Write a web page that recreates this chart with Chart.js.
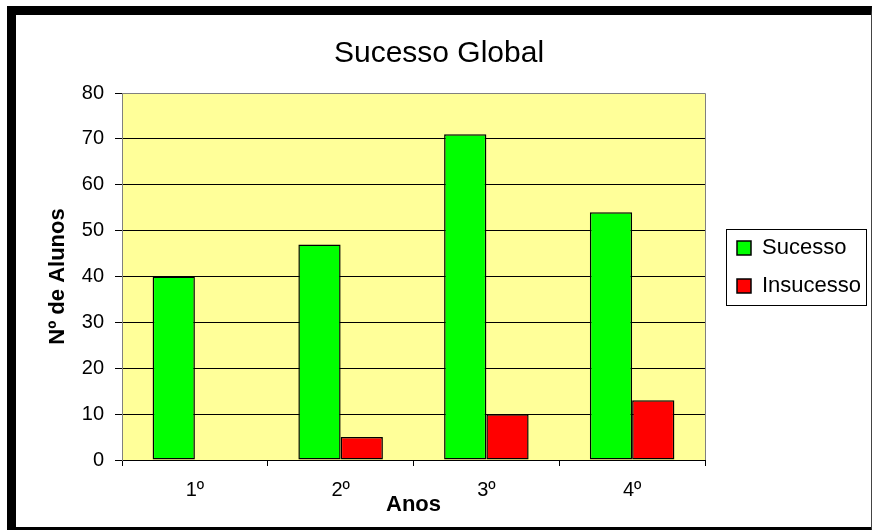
<!DOCTYPE html>
<html lang="pt">
<head>
    <meta charset="UTF-8">
    <title>Sucesso Global</title>
    <script src="https://cdn.jsdelivr.net/npm/chart.js"></script>
    <style>
        html, body { margin: 0; padding: 0; background: #fff; }
        #wrap { position: relative; width: 872px; height: 530px; overflow: hidden; }
        #frame {
            position: absolute; left: 7px; top: 6px; width: 865px; height: 530px;
            box-sizing: border-box;
            border-left: 9px solid #000; border-top: 9px solid #000;
            border-bottom: 9px solid #000; border-right: 1px solid #444;
            pointer-events: none;
        }
        canvas { position: absolute; left: 0; top: 0; }
    </style>
</head>
<body>
    <div id="wrap">
        <canvas id="chart" width="872" height="530"></canvas>
        <div id="frame"></div>
    </div>

    <script>
        const anos = ['1º', '2º', '3º', '4º'];
        const sucesso = [40, 47, 71, 54];
        const insucesso = [0, 5, 10, 13];
        const yMin = 0, yMax = 80, yStep = 10;

        const FONT = '"Liberation Sans", Arial, sans-serif';

        // yellow plot area + grey frame on top/right
        const plotArea = {
            id: 'plotArea',
            afterLayout(chart) {
                // legend sits a bit above the plot's middle
                chart.legend.top -= 3;
                chart.legend.bottom -= 3;
            },
            beforeDraw(chart) {
                const a = chart.chartArea, c = chart.ctx;
                c.save();
                c.fillStyle = '#FFFF99';
                c.fillRect(a.left, a.top, a.right - a.left, a.bottom - a.top);
                c.restore();
            },
            afterDatasetsDraw(chart) {
                const a = chart.chartArea, c = chart.ctx;
                c.save();
                c.strokeStyle = '#808080';
                c.lineWidth = 1;
                c.beginPath();
                c.moveTo(a.left, a.top + 0.5);
                c.lineTo(a.right + 0.5, a.top + 0.5);
                c.lineTo(a.right + 0.5, a.bottom);
                c.stroke();
                c.restore();
            }
        };

        // box around the legend
        const legendBox = {
            id: 'legendBox',
            afterDraw(chart) {
                const hb = chart.legend.legendHitBoxes;
                if (!hb || !hb.length) return;
                const l = Math.min(...hb.map(h => h.left)) - 11;
                const r = Math.max(...hb.map(h => h.left + h.width)) + 5;
                const t = Math.min(...hb.map(h => h.top)) - 8;
                const b = Math.max(...hb.map(h => h.top + h.height)) + 8;
                const c = chart.ctx;
                c.save();
                c.strokeStyle = '#000';
                c.lineWidth = 1;
                c.strokeRect(Math.round(l) + 0.5, Math.round(t) + 0.5, Math.round(r - l), Math.round(b - t));
                c.restore();
            }
        };

        new Chart(document.getElementById('chart'), {
            type: 'bar',
            data: {
                labels: anos,
                datasets: [
                    {
                        label: 'Sucesso',
                        data: sucesso,
                        backgroundColor: '#00FF00',
                        borderColor: '#000',
                        borderWidth: 1.5,
                        borderSkipped: false
                    },
                    {
                        label: 'Insucesso',
                        data: insucesso,
                        backgroundColor: '#FF0000',
                        borderColor: '#000',
                        borderWidth: 1.5,
                        borderSkipped: false
                    }
                ]
            },
            options: {
                responsive: false,
                animation: false,
                devicePixelRatio: 1,
                categoryPercentage: 0.58,
                barPercentage: 1.0,
                layout: { padding: { left: 16, top: 20, right: 10, bottom: 10 } },
                plugins: {
                    title: {
                        display: true,
                        text: 'Sucesso Global',
                        color: '#000',
                        font: { family: FONT, size: 30, weight: 'normal' },
                        padding: { top: 16, bottom: 21 }
                    },
                    legend: {
                        position: 'right',
                        labels: {
                            color: '#000',
                            font: { family: FONT, size: 22 },
                            boxWidth: 14,
                            boxHeight: 14,
                            padding: 16
                        }
                    },
                    tooltip: { enabled: false }
                },
                scales: {
                    x: {
                        grid: {
                            offset: true,
                            drawOnChartArea: false,
                            drawTicks: true,
                            tickLength: 6,
                            color: '#000'
                        },
                        border: { color: '#000', width: 1 },
                        ticks: { color: '#000', font: { family: FONT, size: 20 }, padding: 12 },
                        title: {
                            display: true,
                            text: 'Anos',
                            color: '#000',
                            font: { family: FONT, size: 22, weight: 'bold' },
                            padding: { top: 0, bottom: 2 }
                        },
                        afterFit(scale) { scale.height = 60; }
                    },
                    y: {
                        min: yMin,
                        max: yMax,
                        ticks: { stepSize: yStep, color: '#000', font: { family: FONT, size: 20 }, padding: 11 },
                        grid: {
                            color: ctx => ctx.tick && ctx.tick.value === yMax ? '#808080' : '#000',
                            tickColor: '#000',
                            tickLength: 7,
                            lineWidth: 1
                        },
                        border: { color: '#808080', width: 1 },
                        title: {
                            display: true,
                            text: 'Nº de Alunos',
                            color: '#000',
                            font: { family: FONT, size: 22, weight: 'bold' },
                            padding: { top: 29, bottom: 4 }
                        },
                        afterFit(scale) { scale.width = 106; }
                    },
                    // empty spacer between the plot and the legend
                    gap: {
                        type: 'linear',
                        position: 'right',
                        display: true,
                        grid: { display: false },
                        border: { display: false },
                        ticks: { display: false },
                        afterFit(scale) { scale.width = 16; }
                    }
                }
            },
            plugins: [plotArea, legendBox]
        });
    </script>
</body>
</html>
